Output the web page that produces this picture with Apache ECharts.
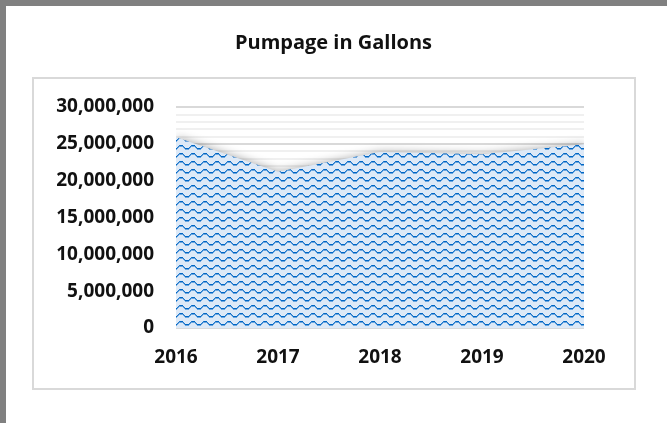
<!DOCTYPE html>
<html>
<head>
<meta charset="utf-8">
<script src="https://cdn.jsdelivr.net/npm/echarts@6/dist/echarts.min.js"></script>
<style>
  html, body { margin: 0; padding: 0; background: #fff; }
  #wrap { position: relative; width: 667px; height: 423px; overflow: hidden; }
  #chart { position: absolute; left: 0; top: 0; width: 667px; height: 423px; }
  .frame-top { position: absolute; left: 0; top: 0; width: 667px; height: 6px; background: #808080; }
  .frame-left { position: absolute; left: 0; top: 0; width: 6px; height: 423px; background: #808080; }
</style>
</head>
<body>
<div id="wrap">
  <div id="chart"></div>
  <div class="frame-top"></div>
  <div class="frame-left"></div>
</div>
<script>
// 数据
const years = ['2016', '2017', '2018', '2019', '2020']
const pumpage = [25900000, 21200000, 23900000, 23600000, 24950000]
const yTicks = { min: 0, max: 30000000, step: 5000000 }

// 波浪图案
function makePattern() {
  const c = document.createElement('canvas')
  c.width = 12
  c.height = 8
  const ctx = c.getContext('2d')
  ctx.fillStyle = '#dde9f7'
  ctx.fillRect(0, 0, 12, 8)
  const off = [0, 0, 0, 1, 2, 3, 3, 3, 3, 2, 1, 0]
  off.forEach((o, x) => {
    const flat = (x < 3 || (x > 4 && x < 9))
    ctx.fillStyle = flat ? '#0066c4' : '#1f78cc'
    ctx.fillRect(x, 1 + o, 1, 1)
    ctx.fillStyle = '#6aa5de'
    ctx.fillRect(x, 2 + o, 1, 1)
  })
  return c
}

const chart = echarts.init(document.getElementById('chart'))
const fontFam = '"Open Sans", "Noto Sans", sans-serif'

chart.setOption({
  animation: false,
  title: {
    text: 'Pumpage in Gallons',
    left: 'center',
    top: 28,
    textStyle: { fontFamily: fontFam, fontSize: 20, fontWeight: 'bold', color: '#111' }
  },
  graphic: [{
    type: 'rect',
    shape: { x: 33, y: 78, width: 602, height: 311 },
    style: { fill: 'none', stroke: '#d9d9d9', lineWidth: 2 },
    z: -1
  }],
  grid: { left: 176, right: 83, top: 107, bottom: 95 },
  xAxis: {
    type: 'category',
    data: years,
    boundaryGap: false,
    axisLine: { show: false },
    axisTick: { show: false },
    axisLabel: { margin: 20, fontFamily: fontFam, fontSize: 19, fontWeight: 'bold', color: '#111' }
  },
  yAxis: {
    type: 'value',
    min: yTicks.min,
    max: yTicks.max,
    interval: yTicks.step,
    axisLine: { show: false },
    axisTick: { show: false },
    axisLabel: {
      margin: 22,
      fontFamily: fontFam, fontSize: 19, fontWeight: 'bold', color: '#111',
      formatter: v => v.toLocaleString('en-US')
    },
    splitLine: { lineStyle: { color: '#d9d9d9', width: 2 } },
    minorTick: { show: false, splitNumber: 5 },
    minorSplitLine: { show: true, lineStyle: { color: '#f0f0f0', width: 2 } }
  },
  series: [{
    type: 'line',
    data: pumpage,
    symbol: 'none',
    lineStyle: { width: 0 },
    areaStyle: {
      color: { image: makePattern(), repeat: 'repeat' },
      opacity: 1,
      shadowBlur: 10,
      shadowColor: 'rgba(0,0,0,0.35)',
      shadowOffsetX: 1,
      shadowOffsetY: 0
    }
  }]
})
</script>
</body>
</html>
